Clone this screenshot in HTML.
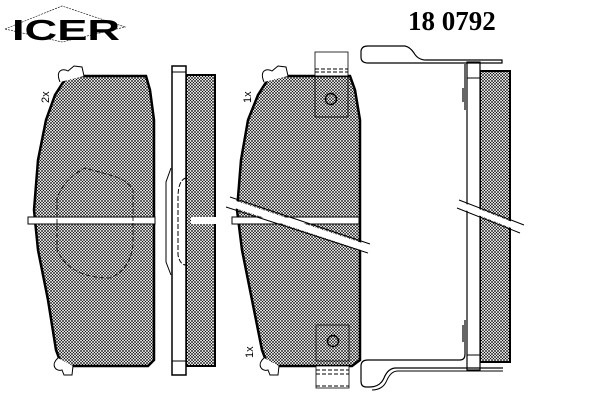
<!DOCTYPE html>
<html><head><style>html,body{margin:0;padding:0;background:#fff;}svg{display:block}</style></head><body>
<svg width="600" height="400" viewBox="0 0 600 400" xmlns="http://www.w3.org/2000/svg">
<defs>
<pattern id="h" width="3" height="3" patternUnits="userSpaceOnUse">
<rect width="3" height="3" fill="#fff"/>
<path d="M0,0L3,3M3,0L0,3" stroke="#000" stroke-width="0.55"/>
</pattern>
</defs>
<!-- logo -->
<path d="M5,29 L62,6 L125,27 L62,42 Z" fill="none" stroke="#000" stroke-width="0.6" stroke-dasharray="2,1"/>
<text x="12" y="40" font-family="Liberation Sans, sans-serif" font-weight="bold" font-size="29" fill="#000" textLength="108" lengthAdjust="spacingAndGlyphs">ICER</text>
<text x="408" y="30" font-family="Liberation Serif, serif" font-weight="bold" font-size="27" fill="#000">18 0792</text>

<!-- pad 1 -->
<path d="M67,76 L146,76 L150,90 L154,120 L154,360 L148,366 L62,366 L56,350 L48,300 L38,250 L34,210 L38,160 L46,120 L55,95 Z" fill="url(#h)" stroke="#000" stroke-width="2.5"/>
<path d="M60,82 C55,70 63,68 68,71 L74,66 L82,67 L84,76" fill="#fff" stroke="#000" stroke-width="1"/>
<path d="M58,358 C50,365 56,372 62,370 L64,375 L72,375 L73,366" fill="#fff" stroke="#000" stroke-width="1"/>
<rect x="28" y="217" width="127" height="7" fill="#fff" stroke="#000" stroke-width="1"/>
<path d="M57,198 L57,250 Q70,278 110,278 Q130,270 133,245 L133,190 Q128,180 110,175 L85,168 Q65,178 57,198" fill="none" stroke="#000" stroke-width="0.8" stroke-dasharray="5,2"/>
<text x="49" y="103" font-family="Liberation Sans, sans-serif" font-size="11" fill="#000" transform="rotate(-90 49 103)">2x</text>

<!-- side view 1 -->
<rect x="186" y="75" width="29" height="291" fill="url(#h)" stroke="#000" stroke-width="2"/>
<rect x="191" y="217" width="26" height="7" fill="#fff"/>
<line x1="215" y1="217" x2="215" y2="224" stroke="#fff" stroke-width="3"/>
<rect x="172" y="66" width="14" height="309" fill="#fff" stroke="#000" stroke-width="1.5"/>
<line x1="172" y1="72" x2="186" y2="72" stroke="#000"/>
<line x1="172" y1="361" x2="186" y2="361" stroke="#000"/>
<path d="M171,168 L166,182 L166,262 L171,275" fill="none" stroke="#000"/>
<path d="M186,178 Q178,180 178,198 L178,255 Q180,265 186,265" fill="none" stroke="#000" stroke-dasharray="5,2"/>

<!-- pad 2 -->
<path d="M270,76 L350,76 L355,90 L360,120 L360,360 L352,366 L268,366 L262,350 L252,300 L242,250 L237,210 L241,160 L248,120 L258,95 Z" fill="url(#h)" stroke="#000" stroke-width="2.5"/>
<path d="M264,82 C259,70 267,68 272,71 L278,66 L286,67 L288,76" fill="#fff" stroke="#000" stroke-width="1"/>
<path d="M264,358 C256,365 262,372 268,370 L270,375 L278,375 L279,366" fill="#fff" stroke="#000" stroke-width="1"/>
<rect x="232" y="217" width="127" height="7" fill="#fff" stroke="#000" stroke-width="1"/>
<rect x="315" y="52" width="33" height="24" fill="#fff" stroke="#000" stroke-width="0.8"/>
<path d="M315,69 H348 M315,72 H348" stroke="#000" stroke-dasharray="4,2"/>
<rect x="315" y="76" width="33" height="41" fill="none" stroke="#000" stroke-width="0.8"/>
<circle cx="331" cy="99" r="5.5" fill="none" stroke="#000" stroke-width="1.5"/>
<rect x="316" y="325" width="33" height="36" fill="none" stroke="#000" stroke-width="0.8"/>
<circle cx="333" cy="341" r="5.5" fill="none" stroke="#000" stroke-width="1.5"/>
<rect x="316" y="366" width="33" height="22" fill="#fff" stroke="#000" stroke-width="0.8"/>
<path d="M316,370 H349 M316,374 H349 M316,386 H349" stroke="#000" stroke-dasharray="4,2"/>
<path d="M230,197 L370,244 M226,207 L368,253" stroke="#000" stroke-width="1"/>
<path d="M228,202 L369,249" stroke="#fff" stroke-width="7"/>
<text x="251" y="103" font-family="Liberation Sans, sans-serif" font-size="11" fill="#000" transform="rotate(-90 251 103)">1x</text>
<text x="253" y="358" font-family="Liberation Sans, sans-serif" font-size="11" fill="#000" transform="rotate(-90 253 358)">1x</text>

<!-- right side view with clip -->
<rect x="480" y="71" width="30" height="291" fill="url(#h)" stroke="#000" stroke-width="2"/>
<rect x="467" y="62" width="13" height="308" fill="#fff" stroke="#000" stroke-width="1.2"/>
<line x1="467" y1="78" x2="480" y2="78" stroke="#000"/>
<line x1="467" y1="355" x2="480" y2="355" stroke="#000"/>
<path d="M502,63 H368 Q361,63 361,57 V52 Q361,46 368,46 H405 Q410,47 414,53 Q418,60 426,60 H502 Z" fill="none" stroke="#000" stroke-width="1.2"/>
<path d="M465,64 V110 M463,88 V102" stroke="#000" stroke-width="1.2"/>
<path d="M503,368 H396 Q388,368 384,378 Q380,387 370,387 H366 Q361,387 361,381 V366 Q361,360 368,360 H460 Q465,360 465,354 V320" fill="none" stroke="#000" stroke-width="1.2"/>
<path d="M503,371 H398 Q391,371 387,380 Q383,390 372,390" fill="none" stroke="#000" stroke-width="1"/>
<path d="M463,325 V342" stroke="#000" stroke-width="1.2"/>
<path d="M459,200 L524,225 M457,208 L520,233" stroke="#000" stroke-width="1"/>
<path d="M458,204 L522,229" stroke="#fff" stroke-width="6"/>
</svg>
</body></html>
